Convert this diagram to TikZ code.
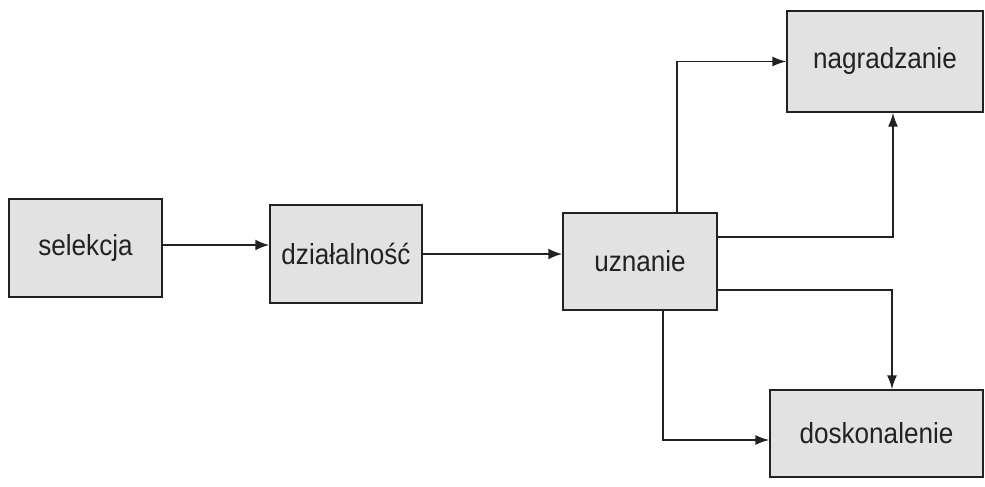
\documentclass[tikz,border=0pt]{standalone}
\usepackage{fontspec}
\setmainfont{Liberation Sans}[FakeStretch=0.9]
\usetikzlibrary{arrows.meta}
\definecolor{boxfill}{HTML}{E2E2E2}
\definecolor{inkline}{HTML}{222222}
\tikzset{
  stagebox/.style={draw=inkline, line width=1.4pt, fill=boxfill, inner sep=0pt,
    font=\fontsize{29}{33}\selectfont, text=inkline},
  mainarrow/.style={draw=inkline, line width=2.2pt,
    -{Latex[length=14pt,width=11pt]}},
  brancharrow/.style={draw=inkline, line width=1.5pt,
    -{Latex[length=14pt,width=10pt]}}
}
\begin{document}
\begin{tikzpicture}[x=1pt,y=-1pt]
\useasboundingbox (0,0) rectangle (985,487);
\fill[white] (0,0) rectangle (985,487);

% stages
\node[stagebox, minimum width=153pt, minimum height=98pt] (selekcja) at (85.5,248) {selekcja};
\node[stagebox, minimum width=152pt, minimum height=98pt] (dzialalnosc) at (346,254) {działalność};
\node[stagebox, minimum width=154pt, minimum height=97pt] (uznanie) at (640,261.5) {uznanie};
\node[stagebox, minimum width=196pt, minimum height=101pt] (nagradzanie) at (885,61.5) {nagradzanie};
\node[stagebox, minimum width=213pt, minimum height=87pt] (doskonalenie) at (876.5,433.5) {doskonalenie};

% main flow
\draw[mainarrow] (selekcja.east |- 0,245) -- (dzialalnosc.west |- 0,245);
\draw[mainarrow] (dzialalnosc.east) -- (uznanie.west |- dzialalnosc.east);

% branches out of uznanie
\draw[brancharrow] (uznanie.north -| 677,0) |- (nagradzanie.west);
\draw[brancharrow] (uznanie.east |- 0,237) -| (nagradzanie.south -| 893,0);
\draw[brancharrow] (uznanie.east |- 0,290) -| (doskonalenie.north -| 892,0);
\draw[brancharrow] (uznanie.south -| 663,0) |- (doskonalenie.west |- 0,440);
\end{tikzpicture}
\end{document}
